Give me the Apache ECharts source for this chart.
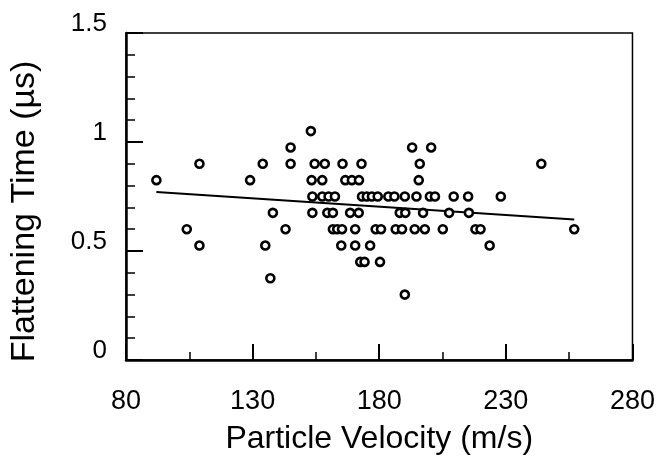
<!DOCTYPE html>
<html>
<head>
<meta charset="utf-8">
<script src="https://cdn.jsdelivr.net/npm/echarts@6/dist/echarts.min.js"></script>
<style>
html,body{margin:0;padding:0;background:#fff;}
#chart{width:658px;height:460px;}
</style>
</head>
<body>
<div id="chart"></div>
<script>
// Flattening time levels (µs) and velocities (m/s) of points at each level
const v105  = [153];
const v0975 = [145, 193, 200.5];
const v090  = [109, 134, 145, 154.5, 158.5, 165.5, 173, 196, 244];
const v0825 = [92, 129, 153.3, 157.5, 166.6, 169.2, 172, 195.6];
const v075  = [153.6, 157.5, 160, 162.5, 173.2, 175.1, 177.1, 179.4, 183.6, 186, 190.1, 194.7, 200, 202, 209.4, 215.1, 228];
const v0675 = [138, 153.6, 159.5, 161.7, 168.5, 171.9, 188.1, 190.3, 197.3, 207.6, 215.4];
const v060  = [104, 143, 161.7, 163.4, 165.3, 170.5, 178.6, 180.7, 186.5, 189, 194, 198, 205.1, 218, 220, 257];
const v0525 = [109, 135, 165, 170.5, 176.4, 223.6];
const v045  = [172.5, 174.2, 180.3];
const v0375 = [137];
const v030  = [190.1];

const levelTimes = [1.05, 0.975, 0.9, 0.825, 0.75, 0.675, 0.6, 0.525, 0.45, 0.375, 0.3];
const levelVelocities = [v105, v0975, v090, v0825, v075, v0675, v060, v0525, v045, v0375, v030];

// Fitted trend line endpoints
const fitX = [92, 257];
const fitY = [0.771, 0.645];

// Axis ticks
const xTicks = [80, 130, 180, 230, 280];
const yTicks = [0, 0.5, 1, 1.5];

const points = [];
levelVelocities.forEach((arr, i) => arr.forEach(v => points.push([v, levelTimes[i]])));
const fitData = fitX.map((x, i) => [x, fitY[i]]);

const chart = echarts.init(document.getElementById('chart'), null, {renderer: 'canvas'});
const font = '"Liberation Sans", Arial, sans-serif';
chart.setOption({
  animation: false,
  backgroundColor: '#fff',
  grid: {left: 122, top: 33, width: 511, height: 336, show: true, borderColor: '#000', borderWidth: 1.5, backgroundColor: 'transparent'},
  xAxis: {
    type: 'value', min: xTicks[0], max: xTicks[xTicks.length - 1], interval: 50,
    name: 'Particle Velocity (m/s)', nameLocation: 'middle', nameGap: 63,
    nameTextStyle: {fontFamily: font, fontSize: 32, color: '#000'},
    axisLine: {show: true, lineStyle: {color: '#000', width: 2.5}},
    axisTick: {show: true, inside: true, length: 16, lineStyle: {color: '#000', width: 2}},
    minorTick: {show: true, splitNumber: 2, length: 8, lineStyle: {color: '#000', width: 1.5}},
    axisLabel: {fontFamily: font, fontSize: 27, color: '#000', margin: 28},
    splitLine: {show: false}
  },
  yAxis: {
    type: 'value', min: yTicks[0], max: yTicks[yTicks.length - 1], interval: 0.5,
    name: 'Flattening Time (µs)', nameLocation: 'middle', nameGap: 84, nameRotate: 90,
    nameTextStyle: {fontFamily: font, fontSize: 34, color: '#000', padding: [0, 30, 0, 0]},
    axisLine: {show: true, lineStyle: {color: '#000', width: 2.5}},
    axisTick: {show: true, inside: true, length: 17, lineStyle: {color: '#000', width: 2}},
    minorTick: {show: true, splitNumber: 5, length: 9, lineStyle: {color: '#000', width: 1.5}},
    axisLabel: {fontFamily: font, fontSize: 26, color: '#000', margin: 19, verticalAlign: 'bottom', lineHeight: 18},
    splitLine: {show: false}
  },
  series: [
    {
      type: 'line', data: fitData, symbol: 'none', z: 2,
      lineStyle: {color: '#000', width: 2}
    },
    {
      type: 'scatter', data: points, symbol: 'circle', symbolSize: 8, z: 3,
      itemStyle: {color: '#fff', borderColor: '#000', borderWidth: 2.6, opacity: 1}
    }
  ]
});
</script>
</body>
</html>
